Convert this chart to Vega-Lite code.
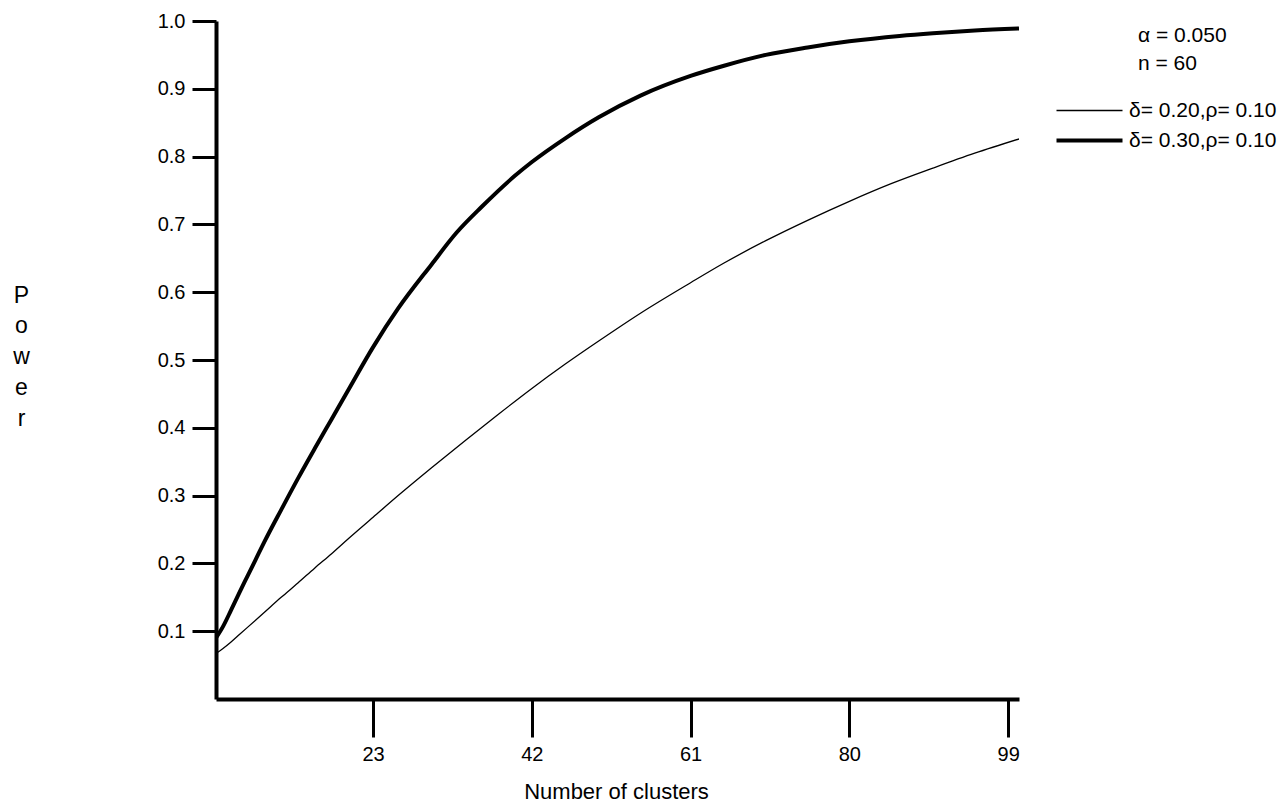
{
  "$schema": "https://vega.github.io/schema/vega-lite/v6.json",
  "autosize": "none",
  "width": 803,
  "height": 678,
  "padding": {"left": 216, "top": 21, "right": 268, "bottom": 104},
  "background": "white",
  "title": {
    "text": ["α = 0.050", "n = 60"],
    "anchor": "end",
    "align": "left",
    "frame": "group",
    "dx": 119,
    "dy": 80,
    "offset": 0,
    "baseline": "alphabetic",
    "font": "Liberation Sans",
    "fontSize": 21,
    "fontWeight": "normal",
    "lineHeight": 28,
    "color": "black"
  },
  "data": {
    "values": [
      {"series": "δ= 0.20,ρ= 0.10", "clusters": 4.2, "power": 0.067},
      {"series": "δ= 0.20,ρ= 0.10", "clusters": 5, "power": 0.074},
      {"series": "δ= 0.20,ρ= 0.10", "clusters": 6, "power": 0.084},
      {"series": "δ= 0.20,ρ= 0.10", "clusters": 7, "power": 0.095},
      {"series": "δ= 0.20,ρ= 0.10", "clusters": 8, "power": 0.106},
      {"series": "δ= 0.20,ρ= 0.10", "clusters": 10, "power": 0.128},
      {"series": "δ= 0.20,ρ= 0.10", "clusters": 12, "power": 0.150},
      {"series": "δ= 0.20,ρ= 0.10", "clusters": 14, "power": 0.171},
      {"series": "δ= 0.20,ρ= 0.10", "clusters": 16, "power": 0.193},
      {"series": "δ= 0.20,ρ= 0.10", "clusters": 18, "power": 0.214},
      {"series": "δ= 0.20,ρ= 0.10", "clusters": 20, "power": 0.236},
      {"series": "δ= 0.20,ρ= 0.10", "clusters": 23, "power": 0.268},
      {"series": "δ= 0.20,ρ= 0.10", "clusters": 26, "power": 0.300},
      {"series": "δ= 0.20,ρ= 0.10", "clusters": 30, "power": 0.341},
      {"series": "δ= 0.20,ρ= 0.10", "clusters": 34, "power": 0.381},
      {"series": "δ= 0.20,ρ= 0.10", "clusters": 38, "power": 0.420},
      {"series": "δ= 0.20,ρ= 0.10", "clusters": 42, "power": 0.458},
      {"series": "δ= 0.20,ρ= 0.10", "clusters": 46, "power": 0.494},
      {"series": "δ= 0.20,ρ= 0.10", "clusters": 50, "power": 0.528},
      {"series": "δ= 0.20,ρ= 0.10", "clusters": 55, "power": 0.569},
      {"series": "δ= 0.20,ρ= 0.10", "clusters": 61, "power": 0.614},
      {"series": "δ= 0.20,ρ= 0.10", "clusters": 65, "power": 0.643},
      {"series": "δ= 0.20,ρ= 0.10", "clusters": 70, "power": 0.676},
      {"series": "δ= 0.20,ρ= 0.10", "clusters": 75, "power": 0.706},
      {"series": "δ= 0.20,ρ= 0.10", "clusters": 80, "power": 0.734},
      {"series": "δ= 0.20,ρ= 0.10", "clusters": 85, "power": 0.760},
      {"series": "δ= 0.20,ρ= 0.10", "clusters": 90, "power": 0.783},
      {"series": "δ= 0.20,ρ= 0.10", "clusters": 95, "power": 0.805},
      {"series": "δ= 0.20,ρ= 0.10", "clusters": 100.3, "power": 0.826},
      {"series": "δ= 0.30,ρ= 0.10", "clusters": 4.2, "power": 0.090},
      {"series": "δ= 0.30,ρ= 0.10", "clusters": 5, "power": 0.106},
      {"series": "δ= 0.30,ρ= 0.10", "clusters": 6, "power": 0.131},
      {"series": "δ= 0.30,ρ= 0.10", "clusters": 7, "power": 0.157},
      {"series": "δ= 0.30,ρ= 0.10", "clusters": 8, "power": 0.182},
      {"series": "δ= 0.30,ρ= 0.10", "clusters": 9, "power": 0.207},
      {"series": "δ= 0.30,ρ= 0.10", "clusters": 10, "power": 0.232},
      {"series": "δ= 0.30,ρ= 0.10", "clusters": 12, "power": 0.279},
      {"series": "δ= 0.30,ρ= 0.10", "clusters": 14, "power": 0.325},
      {"series": "δ= 0.30,ρ= 0.10", "clusters": 16, "power": 0.369},
      {"series": "δ= 0.30,ρ= 0.10", "clusters": 18, "power": 0.412},
      {"series": "δ= 0.30,ρ= 0.10", "clusters": 20, "power": 0.455},
      {"series": "δ= 0.30,ρ= 0.10", "clusters": 23, "power": 0.519},
      {"series": "δ= 0.30,ρ= 0.10", "clusters": 26, "power": 0.576},
      {"series": "δ= 0.30,ρ= 0.10", "clusters": 30, "power": 0.641},
      {"series": "δ= 0.30,ρ= 0.10", "clusters": 33, "power": 0.688},
      {"series": "δ= 0.30,ρ= 0.10", "clusters": 36, "power": 0.726},
      {"series": "δ= 0.30,ρ= 0.10", "clusters": 40, "power": 0.772},
      {"series": "δ= 0.30,ρ= 0.10", "clusters": 42, "power": 0.792},
      {"series": "δ= 0.30,ρ= 0.10", "clusters": 46, "power": 0.827},
      {"series": "δ= 0.30,ρ= 0.10", "clusters": 50, "power": 0.858},
      {"series": "δ= 0.30,ρ= 0.10", "clusters": 55, "power": 0.890},
      {"series": "δ= 0.30,ρ= 0.10", "clusters": 61, "power": 0.919},
      {"series": "δ= 0.30,ρ= 0.10", "clusters": 65, "power": 0.934},
      {"series": "δ= 0.30,ρ= 0.10", "clusters": 70, "power": 0.950},
      {"series": "δ= 0.30,ρ= 0.10", "clusters": 75, "power": 0.961},
      {"series": "δ= 0.30,ρ= 0.10", "clusters": 80, "power": 0.970},
      {"series": "δ= 0.30,ρ= 0.10", "clusters": 86, "power": 0.978},
      {"series": "δ= 0.30,ρ= 0.10", "clusters": 90, "power": 0.982},
      {"series": "δ= 0.30,ρ= 0.10", "clusters": 95, "power": 0.986},
      {"series": "δ= 0.30,ρ= 0.10", "clusters": 100.3, "power": 0.989}
    ]
  },
  "mark": {"type": "line", "color": "black", "interpolate": "monotone", "clip": true},
  "encoding": {
    "x": {
      "field": "clusters",
      "type": "quantitative",
      "scale": {"domain": [4.2, 100.3], "nice": false, "zero": false},
      "axis": {
        "values": [23, 42, 61, 80, 99],
        "format": "d",
        "title": "Number of clusters",
        "titleX": 400,
        "titleY": 99,
        "titleBaseline": "alphabetic",
        "titleFontSize": 22,
        "tickSize": 38,
        "labelPadding": 7
      }
    },
    "y": {
      "field": "power",
      "type": "quantitative",
      "scale": {"domain": [0, 1], "nice": false},
      "axis": {
        "values": [0.1, 0.2, 0.3, 0.4, 0.5, 0.6, 0.7, 0.8, 0.9, 1.0],
        "format": ".1f",
        "title": ["P", "o", "w", "e", "r"],
        "titleAngle": 0,
        "titleX": -195,
        "titleY": 281,
        "titleAlign": "center",
        "titleBaseline": "alphabetic",
        "titleFontSize": 23,
        "titleLineHeight": 30.75,
        "tickSize": 24,
        "labelPadding": 7
      }
    },
    "strokeWidth": {
      "field": "series",
      "type": "ordinal",
      "scale": {"domain": ["δ= 0.20,ρ= 0.10", "δ= 0.30,ρ= 0.10"], "range": [1.3, 4]},
      "legend": {
        "orient": "none",
        "legendX": 855,
        "legendY": 72,
        "title": null,
        "symbolType": "M-2,0H2",
        "symbolSize": 1089,
        "symbolStrokeColor": "black",
        "symbolFillColor": "transparent",
        "labelFontSize": 21,
        "labelFont": "Liberation Sans",
        "labelColor": "black",
        "labelOffset": 21,
        "rowPadding": 1,
        "labelLimit": 300
      }
    }
  },
  "config": {
    "font": "Liberation Sans",
    "view": {"stroke": null},
    "axis": {
      "grid": false,
      "domainColor": "black",
      "domainWidth": 4,
      "tickColor": "black",
      "tickWidth": 3,
      "labelFont": "Liberation Sans",
      "labelFontSize": 20,
      "labelColor": "black",
      "titleFont": "Liberation Sans",
      "titleFontWeight": "normal",
      "titleColor": "black"
    }
  }
}
